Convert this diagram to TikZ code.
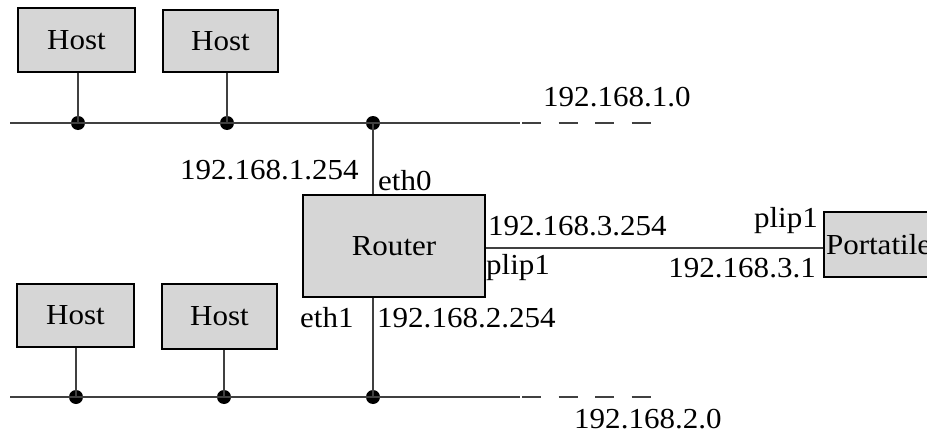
\documentclass[tikz,border=0pt]{standalone}
\usepackage{fontspec}
\setmainfont{Liberation Serif}[FakeStretch=1.07]
\begin{document}
\begin{tikzpicture}[x=1pt,y=-1pt,
  box/.style={draw=black,line width=1.6pt,fill=boxgray,inner sep=0pt,font=\fontsize{29}{29}\selectfont},
  lbl/.style={inner sep=0pt,anchor=west,font=\fontsize{29}{29}\selectfont},
  wire/.style={line width=1.8pt,draw=black!75},
  dot/.style={circle,fill=black,inner sep=0pt,minimum size=14pt}]
\definecolor{boxgray}{HTML}{D6D6D6}
\useasboundingbox (0,0) rectangle (927,436);
% top hosts
\node[box,minimum width=117pt,minimum height=64pt] (h1) at (76.5,40) {Host};
\node[box,minimum width=115pt,minimum height=62pt] (h2) at (220.5,41) {Host};
% bottom hosts
\node[box,minimum width=117pt,minimum height=63pt] (h3) at (75.5,315.5) {Host};
\node[box,minimum width=115pt,minimum height=65pt] (h4) at (219.5,316.5) {Host};
% router
\node[box,minimum width=182pt,minimum height=102pt] (r) at (394,246) {Router};
% portatile
\node[box,minimum width=130pt,minimum height=65pt,text width=126pt,align=left] (p) at (889,244.5) {Portatile};
% network lines top
\coordinate (t0) at (10,123);
\coordinate (t1) at (520,123);
\coordinate (t2s) at (522,123);
\coordinate (t2) at (651,123);
\node[dot] (d1) at (78,123) {};
\node[dot] (d2) at (227,123) {};
\node[dot] (d3) at (373,123) {};
\draw[wire] (t0) -- (t1);
\draw[wire,dash pattern=on 19pt off 17.5pt] (t2s) -- (t2);
\draw[wire] (h1.south -| d1) -- (d1.center);
\draw[wire] (h2.south -| d2) -- (d2.center);
\draw[wire] (d3.center) -- (r.north -| d3);
% bottom lines
\coordinate (b0) at (10,397);
\coordinate (b1) at (520,397);
\coordinate (b2s) at (522,397);
\coordinate (b2) at (651,397);
\node[dot] (e1) at (76,397) {};
\node[dot] (e2) at (224,397) {};
\node[dot] (e3) at (373,397) {};
\draw[wire] (b0) -- (b1);
\draw[wire,dash pattern=on 19pt off 17.5pt] (b2s) -- (b2);
\draw[wire] (h3.south -| e1) -- (e1.center);
\draw[wire] (h4.south -| e2) -- (e2.center);
\draw[wire] (r.south -| e3) -- (e3.center);
% link router - portatile
\draw[wire] (r.east |- 0,248) -- (p.west |- 0,248);
% labels
\node[lbl] (l1) at (543,97) {192.168.1.0};
\node[lbl] (l2) at (180,170) {192.168.1.254};
\node[lbl] (l3) at (378,181) {eth0};
\node[lbl] (l4) at (488,226) {192.168.3.254};
\node[lbl] (l5) at (486,268) {plip1};
\node[lbl,anchor=east] (l6) at (818,221) {plip1};
\node[lbl,anchor=east] (l7) at (816,268) {192.168.3.1};
\node[lbl] (l8) at (300,318) {eth1};
\node[lbl] (l9) at (377,318) {192.168.2.254};
\node[lbl] (l10) at (574,419) {192.168.2.0};
\end{tikzpicture}
\end{document}
